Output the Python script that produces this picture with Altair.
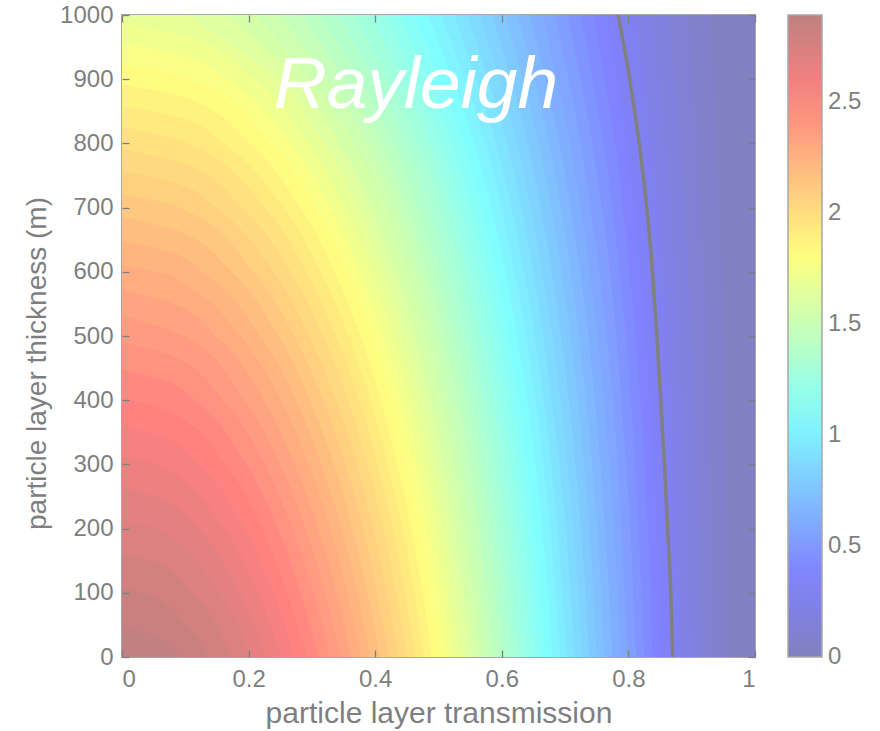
import altair as alt
import pandas as pd

# ---- filled contours: transmission of each level at given thicknesses ----
coarse_L = [0, 200, 400, 600, 800, 1000]
lv005 = [0.958, 0.956, 0.952, 0.947, 0.939, 0.929]
lv010 = [0.934, 0.931, 0.926, 0.919, 0.908, 0.893]
lv015 = [0.915, 0.911, 0.904, 0.895, 0.882, 0.863]
lv020 = [0.898, 0.893, 0.885, 0.874, 0.858, 0.836]
lv025 = [0.882, 0.876, 0.867, 0.855, 0.837, 0.812]
lv030 = [0.867, 0.860, 0.850, 0.836, 0.817, 0.789]
lv035 = [0.852, 0.845, 0.834, 0.819, 0.797, 0.767]
lv040 = [0.838, 0.831, 0.819, 0.802, 0.779, 0.745]
lv045 = [0.825, 0.816, 0.804, 0.786, 0.761, 0.725]
lv050 = [0.812, 0.803, 0.789, 0.771, 0.743, 0.704]
lv055 = [0.799, 0.789, 0.776, 0.754, 0.725, 0.684]
lv060 = [0.787, 0.777, 0.761, 0.739, 0.708, 0.664]
lv065 = [0.775, 0.763, 0.747, 0.724, 0.691, 0.644]
lv070 = [0.762, 0.751, 0.733, 0.709, 0.675, 0.625]
lv075 = [0.750, 0.738, 0.720, 0.694, 0.658, 0.605]
lv080 = [0.738, 0.725, 0.706, 0.679, 0.641, 0.585]
lv085 = [0.727, 0.713, 0.693, 0.664, 0.624, 0.565]
lv090 = [0.715, 0.701, 0.679, 0.650, 0.608, 0.545]
lv095 = [0.703, 0.688, 0.666, 0.635, 0.591, 0.525]
lv100 = [0.692, 0.676, 0.653, 0.620, 0.574, 0.504]
lv105 = [0.680, 0.664, 0.640, 0.606, 0.557, 0.483]
lv110 = [0.669, 0.651, 0.626, 0.591, 0.540, 0.461]
lv115 = [0.657, 0.639, 0.613, 0.576, 0.522, 0.439]
lv120 = [0.646, 0.627, 0.599, 0.561, 0.504, 0.416]
lv125 = [0.634, 0.614, 0.586, 0.545, 0.486, 0.392]
lv130 = [0.622, 0.602, 0.572, 0.530, 0.468, 0.367]
lv135 = [0.611, 0.589, 0.559, 0.514, 0.449, 0.341]
lv140 = [0.599, 0.577, 0.545, 0.498, 0.429, 0.313]
lv145 = [0.587, 0.564, 0.531, 0.482, 0.409, 0.283]
lv150 = [0.576, 0.551, 0.516, 0.466, 0.389, 0.249]
lv155 = [0.564, 0.538, 0.502, 0.449, 0.367, 0.211]
fine_L = [0, 200, 400, 600, 800, 900, 1000]
lv160 = [0.552, 0.525, 0.487, 0.432, 0.344, 0.276, 0.165]
lv165 = [0.539, 0.512, 0.472, 0.414, 0.320, 0.245, 0.101]

# levels that reach the left edge
lv170_L = [0, 100, 200, 300, 400, 500, 600, 700, 800, 900, 967, 988]
lv170_T = [0.527, 0.514, 0.499, 0.480, 0.457, 0.430, 0.395, 0.352, 0.295, 0.209, 0.104, 0]
lv175_L = [0, 100, 200, 300, 400, 500, 600, 700, 800, 900, 935, 956]
lv175_T = [0.515, 0.501, 0.485, 0.465, 0.442, 0.413, 0.376, 0.330, 0.267, 0.167, 0.104, 0]
lv180_L = [0, 100, 200, 300, 400, 500, 600, 700, 800, 900, 924]
lv180_T = [0.502, 0.488, 0.471, 0.451, 0.426, 0.395, 0.357, 0.307, 0.237, 0.109, 0]
lv185_L = [0, 100, 200, 300, 400, 500, 600, 700, 800, 870, 892]
lv185_T = [0.489, 0.475, 0.457, 0.435, 0.409, 0.377, 0.336, 0.282, 0.202, 0.102, 0]
lv190_L = [0, 100, 200, 300, 400, 500, 600, 700, 800, 840, 859]
lv190_T = [0.476, 0.461, 0.443, 0.420, 0.392, 0.358, 0.314, 0.255, 0.161, 0.093, 0]
lv195_L = [0, 100, 200, 300, 400, 500, 600, 700, 800, 826]
lv195_T = [0.463, 0.447, 0.428, 0.404, 0.375, 0.338, 0.291, 0.225, 0.105, 0]
lv200_L = [0, 100, 200, 300, 400, 500, 600, 700, 770, 791]
lv200_T = [0.450, 0.433, 0.413, 0.388, 0.357, 0.318, 0.266, 0.190, 0.094, 0]
lv205_L = [0, 100, 200, 300, 400, 500, 600, 700, 735, 757]
lv205_T = [0.436, 0.418, 0.397, 0.371, 0.338, 0.296, 0.239, 0.148, 0.093, 0]
lv210_L = [0, 100, 200, 300, 400, 500, 600, 700, 721]
lv210_T = [0.422, 0.403, 0.381, 0.353, 0.318, 0.272, 0.208, 0.090, 0]
lv215_L = [0, 100, 200, 300, 400, 500, 600, 665, 685]
lv215_T = [0.407, 0.388, 0.364, 0.335, 0.297, 0.247, 0.173, 0.085, 0]
lv220_L = [0, 100, 200, 300, 400, 500, 600, 630, 648]
lv220_T = [0.393, 0.372, 0.347, 0.315, 0.275, 0.219, 0.128, 0.079, 0]
lv225_L = [0, 100, 200, 300, 400, 500, 580, 600, 610]
lv225_T = [0.377, 0.356, 0.329, 0.295, 0.251, 0.187, 0.100, 0.057, 0]
lv230_L = [0, 100, 200, 300, 400, 500, 550, 571]
lv230_T = [0.362, 0.339, 0.310, 0.273, 0.224, 0.149, 0.082, 0]
lv235_L = [0, 100, 200, 300, 400, 500, 531]
lv235_T = [0.345, 0.321, 0.290, 0.250, 0.194, 0.097, 0]
lv240_L = [0, 100, 200, 300, 400, 470, 490]
lv240_T = [0.328, 0.302, 0.269, 0.225, 0.160, 0.076, 0]
lv245_L = [0, 100, 200, 300, 400, 430, 447]
lv245_T = [0.310, 0.282, 0.246, 0.196, 0.115, 0.070, 0]
lv250_L = [0, 100, 200, 300, 380, 404]
lv250_T = [0.292, 0.261, 0.221, 0.163, 0.080, 0]
lv255_L = [0, 100, 200, 300, 340, 359]
lv255_T = [0.272, 0.239, 0.193, 0.122, 0.070, 0]
lv260_L = [0, 100, 200, 300, 313]
lv260_T = [0.251, 0.214, 0.161, 0.055, 0]
lv265_L = [0, 100, 200, 245, 264]
lv265_T = [0.228, 0.186, 0.120, 0.067, 0]
lv270_L = [0, 100, 200, 213]
lv270_T = [0.202, 0.153, 0.055, 0]
lv275_L = [0, 100, 145, 162]
lv275_T = [0.173, 0.111, 0.058, 0]
lv280_L = [0, 50, 100, 107]
lv280_T = [0.139, 0.103, 0.036, 0]
lv285_L = [0, 30, 49]
lv285_T = [0.092, 0.058, 0]

levels = [0.0, 0.05, 0.1, 0.15, 0.2, 0.25, 0.3, 0.35, 0.4, 0.45, 0.5, 0.55, 0.6, 0.65, 0.7, 0.75,
          0.8, 0.85, 0.9, 0.95, 1.0, 1.05, 1.1, 1.15, 1.2, 1.25, 1.3, 1.35, 1.4, 1.45, 1.5, 1.55,
          1.6, 1.65, 1.7, 1.75, 1.8, 1.85, 1.9, 1.95, 2.0, 2.05, 2.1, 2.15, 2.2, 2.25, 2.3, 2.35,
          2.4, 2.45, 2.5, 2.55, 2.6, 2.65, 2.7, 2.75, 2.8, 2.85]
cmax = 2.89

# the grey contour line
contour_thickness = [0, 100, 200, 300, 400, 500, 600, 700, 800, 900, 1000]
contour_transmission = [0.870, 0.867, 0.862, 0.857, 0.851, 0.845, 0.838, 0.829, 0.817, 0.802, 0.784]

x_ticks = [0, 0.2, 0.4, 0.6, 0.8, 1]
y_ticks = [0, 100, 200, 300, 400, 500, 600, 700, 800, 900, 1000]
cbar_ticks = [0, 0.5, 1, 1.5, 2, 2.5]
annotation = ["Rayleigh"]

shapes = [([0, 1000], [1, 1])]
shapes += [(coarse_L, t) for t in [lv005, lv010, lv015, lv020, lv025, lv030, lv035, lv040,
                                    lv045, lv050, lv055, lv060, lv065, lv070, lv075, lv080,
                                    lv085, lv090, lv095, lv100, lv105, lv110, lv115, lv120,
                                    lv125, lv130, lv135, lv140, lv145, lv150, lv155]]
shapes += [(fine_L, lv160), (fine_L, lv165)]
shapes += [(lv170_L, lv170_T), (lv175_L, lv175_T), (lv180_L, lv180_T), (lv185_L, lv185_T),
           (lv190_L, lv190_T), (lv195_L, lv195_T), (lv200_L, lv200_T), (lv205_L, lv205_T),
           (lv210_L, lv210_T), (lv215_L, lv215_T), (lv220_L, lv220_T), (lv225_L, lv225_T),
           (lv230_L, lv230_T), (lv235_L, lv235_T), (lv240_L, lv240_T), (lv245_L, lv245_T),
           (lv250_L, lv250_T), (lv255_L, lv255_T), (lv260_L, lv260_T), (lv265_L, lv265_T),
           (lv270_L, lv270_T), (lv275_L, lv275_T), (lv280_L, lv280_T), (lv285_L, lv285_T)]
assert len(shapes) == len(levels)

FONT = "Liberation Sans"
GRAY = "#7f7f7f"
STEP = 0.05

xs = alt.Scale(domain=[0, 1], nice=False, zero=False)
ys = alt.Scale(domain=[0, 1000], nice=False, zero=False)
cs = alt.Scale(domain=[0, cmax * 0.125, cmax * 0.375, cmax * 0.625, cmax * 0.875, cmax],
               range=["#8080bf", "#8080ff", "#80ffff", "#ffff80", "#ff8080", "#bf8080"],
               interpolate="rgb")

common = dict(grid=False, domain=False, tickColor=GRAY, tickWidth=1.3, tickSize=7, offset=-7,
              labelFont=FONT, labelFontSize=24, labelColor=GRAY, titleFont=FONT,
              titleColor=GRAY, titleFontWeight="normal", zindex=1)

x_bottom = alt.Axis(values=x_ticks, format="~g", title="particle layer transmission",
                    orient="bottom", labelPadding=10, titleBaseline="alphabetic",
                    titleY=72, titleFontSize=30, **common)
y_left = alt.Axis(values=y_ticks, format="d", title="particle layer thickness (m)",
                  orient="left", labelPadding=9, titleBaseline="alphabetic",
                  titleX=-84, titleY=348, titleAngle=270, titleFontSize=28, **common)
x_top = alt.Axis(values=x_ticks, labels=False, title=None, orient="top", **common)
y_right = alt.Axis(values=y_ticks, labels=False, title=None, orient="right", **common)

# colour bar: the gradient comes from the legend, its labels are drawn as text below
legend = alt.Legend(type="gradient", orient="none", legendX=666, legendY=0, direction="vertical",
                    gradientLength=642, gradientThickness=34, title=None, padding=0,
                    values=cbar_ticks, labelExpr="''", labelFontSize=24,
                    gradientStrokeColor="#a8a8a8", gradientStrokeWidth=1.5, zindex=0)

records = []
for i, ((L, T), lev) in enumerate(zip(shapes, levels)):
    assert len(L) == len(T)
    for l, t in zip(L, T):
        records.append({"band": i, "L": l, "T": t, "T0": 0.0, "v": lev + STEP / 2})
bands = pd.DataFrame(records)

filled = alt.Chart(bands).mark_area(orient="horizontal", interpolate="monotone").encode(
    y=alt.Y("L:Q", scale=ys, axis=y_left),
    x=alt.X("T:Q", scale=xs, axis=x_bottom),
    x2="T0:Q",
    detail="band:N",
    color=alt.Color("v:Q", scale=cs, legend=legend),
)

cdf = pd.DataFrame({"T": contour_transmission, "L": contour_thickness})
contour = alt.Chart(cdf).mark_line(color="#808080", strokeWidth=3.5,
                                   interpolate="monotone").encode(
    x=alt.X("T:Q", scale=xs, axis=x_top),
    y=alt.Y("L:Q", scale=ys, axis=y_right),
    order="L:Q",
)

# colour-bar ticks (both inner edges) and labels, placed by colour value
cb = alt.Chart(pd.DataFrame({"v": cbar_ticks})).transform_calculate(
    pos=f"datum.v / {cmax} * 1000"
)
cbar_tick_left = cb.transform_filter("datum.v > 0").mark_rule(
    color=GRAY, strokeWidth=1.3, clip=False).encode(
    y=alt.Y("pos:Q", scale=ys, axis=None),
    x=alt.value(666), x2=alt.value(673),
)
cbar_tick_right = cb.transform_filter("datum.v > 0").mark_rule(
    color=GRAY, strokeWidth=1.3, clip=False).encode(
    y=alt.Y("pos:Q", scale=ys, axis=None),
    x=alt.value(693), x2=alt.value(700),
)
cbar_labels = cb.mark_text(
    font=FONT, fontSize=24, color=GRAY, align="left", baseline="middle", clip=False,
).encode(
    y=alt.Y("pos:Q", scale=ys, axis=None),
    x=alt.value(706),
    text=alt.Text("v:Q", format="~g"),
)

label = alt.Chart(pd.DataFrame({"label": annotation})).mark_text(
    font=FONT, fontSize=73, fontStyle="italic", color="white",
    align="center", baseline="alphabetic",
).encode(text="label:N", x=alt.value(294), y=alt.value(93))

chart = alt.layer(filled, contour, cbar_tick_left, cbar_tick_right, cbar_labels,
                  label).resolve_axis(
    x="independent", y="independent"
).properties(
    width=633, height=642,
    autosize=alt.AutoSizeParams(type="none"),
    padding={"left": 122, "top": 15, "right": 125, "bottom": 74},
    background="white",
).configure_view(stroke="#a8a8a8", strokeWidth=2)

chart.save("out.html", embed_options={"renderer": "svg", "actions": False})
